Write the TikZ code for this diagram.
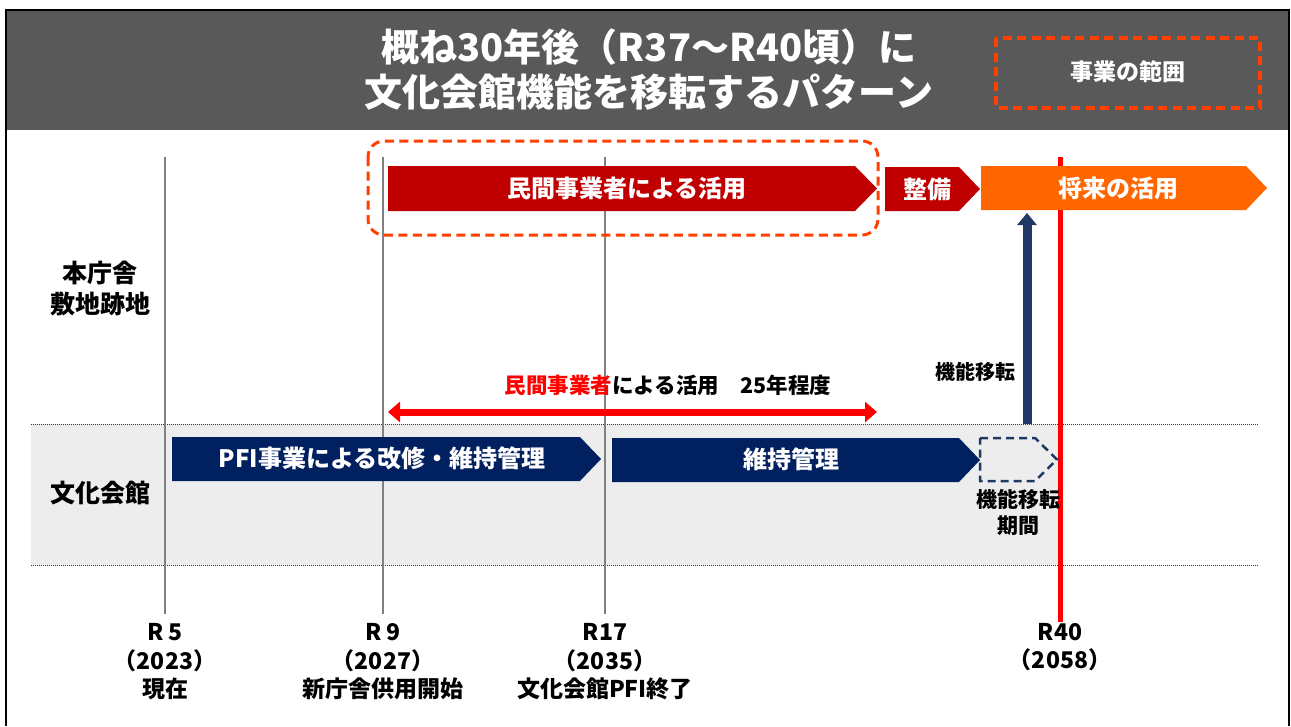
\documentclass[tikz,border=0pt]{standalone}
\usepackage{fontspec}
\setmainfont{Noto Sans CJK JP}
\usetikzlibrary{arrows.meta,calc}
\definecolor{hdr}{HTML}{595959}
\definecolor{dred}{HTML}{C00000}
\definecolor{orng}{HTML}{FF6600}
\definecolor{ored}{HTML}{FF4000}
\definecolor{navy}{HTML}{002060}
\definecolor{navyb}{HTML}{203864}
\definecolor{bandgray}{HTML}{EDEDED}
\definecolor{vgray}{HTML}{808080}
\newcommand\pentbar[6]{\fill[#1] (#2,#4) -- (#3,#4) -- (#6,{(#4+#5)/2}) -- (#3,#5) -- (#2,#5) -- cycle;}
\begin{document}
\begin{tikzpicture}[x=1pt,y=-1pt,
  lbl/.style={font=\fontsize{#1}{#1}\selectfont\bfseries, inner sep=0pt, align=center},
  bartext/.style={text=white, font=\fontsize{24}{24}\selectfont\bfseries, inner sep=0pt},
  vtime/.style={vgray, line width=2.5pt},
  dotline/.style={black!80, line width=0.8pt, dash pattern=on 0.8pt off 1.2pt},
  scopebox/.style={ored, line width=3.5pt, dash pattern=on 9pt off 5.5pt},
  tl/.style={font=\fontsize{23}{28.5}\selectfont\bfseries, inner sep=0pt, align=center}
]
\useasboundingbox (0,0) rectangle (1291,726);
\fill[white] (0,0) rectangle (1291,726);
% header
\fill[hdr] (6,10) rectangle (1289,130);
\draw[black, line width=2pt] (6,726) -- (6,10) -- (1289,10) -- (1289,726);
\node[lbl=38, text=white, font=\fontsize{38}{45}\selectfont\bfseries] (title) at (649,69.5) {概ね30年後（R37～R40頃）に\\文化会館機能を移転するパターン};
\draw[scopebox] (996,38) rectangle (1260,108);
\node[lbl=23, text=white] (scope) at (1128,72) {事業の範囲};
% band
\fill[bandgray] (31,424) rectangle (1060,565);
\draw[dotline] (31,424) -- (1258,424);
\draw[dotline] (31,565) -- (1258,565);
% vertical lines
\coordinate (t5a) at (165,157); \coordinate (t5b) at (165,614);
\coordinate (t9a) at (383,157); \coordinate (t9b) at (383,614);
\coordinate (t17a) at (605,157); \coordinate (t17b) at (605,614);
\coordinate (t40a) at (1060,157); \coordinate (t40b) at (1060,622);
\draw[vtime] (t5a) -- (t5b);
\draw[vtime] (t9a) -- (t9b);
\draw[vtime] (t17a) -- (t17b);
\draw[red, line width=5pt] (t40a) -- (t40b);
% row labels
\node[lbl=25, font=\fontsize{25}{31}\selectfont\bfseries] (row1) at (100,288) {本庁舎\\敷地跡地};
\node[lbl=25] (row2) at (100,493) {文化会館};
% top bars
\pentbar{dred}{388}{855}{166}{211}{877}
\node[bartext] (b1) at (627,188) {民間事業者による活用};
\pentbar{dred}{885}{959}{167}{211}{980}
\node[bartext] (b2) at (927,189) {整備};
\pentbar{orng}{981}{1246}{166}{210}{1267}
\node[bartext] (b3) at (1118,188) {将来の活用};
\draw[scopebox, line width=3pt, rounded corners=16pt] (368,141) rectangle (878,235);
% bottom bars
\pentbar{navy}{172}{580}{437}{481}{601}
\node[bartext] (c1) at (382,458) {PFI事業による改修・維持管理};
\pentbar{navy}{612}{959}{438}{482}{980}
\node[bartext] (c2) at (791,459) {維持管理};
\draw[navyb, line width=2.5pt, dash pattern=on 8pt off 5pt, line join=miter] (980,438) -- (1035,438) -- (1057,459.5) -- (1035,481) -- (980,481) -- cycle;
\node[lbl=21, font=\fontsize{21}{26}\selectfont\bfseries] (mv) at (1018,512) {機能移転\\期間};
% up arrow
\coordinate (upA) at (1027,424);
\coordinate (upB) at (1027,213);
\draw[navyb, line width=9pt, -{Triangle[width=19pt,length=12pt]}] (upA) -- (upB);
\node[lbl=20, anchor=east] (mvlab) at (1016,372) {機能移転};
% red double arrow
\coordinate (rA) at (388,412);
\coordinate (rB) at (877,412);
\draw[red, line width=7pt, {Triangle[width=20pt,length=12pt]}-{Triangle[width=20pt,length=12pt]}] (rA) -- (rB);
\node[lbl=21.5] (rlab) at (668,385) {\textcolor{red}{民間事業者}による活用　25年程度};
% timeline labels
\node[tl] (l5) at (165,662) {R 5\\（2023）\\現在};
\node[tl] (l9) at (383,662) {R 9\\（2027）\\新庁舎供用開始};
\node[tl] (l17) at (605,662) {R17\\（2035）\\文化会館PFI終了};
\node[tl] (l40) at (1060,647) {R40\\（2058）};
\end{tikzpicture}
\end{document}
